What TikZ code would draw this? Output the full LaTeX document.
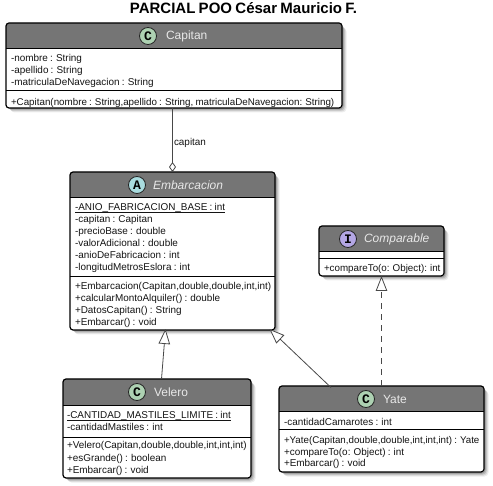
\documentclass[tikz,border=0pt]{standalone}
\usepackage{fontspec}
\setmainfont[WordSpace=0.8]{Liberation Sans}
\setmonofont{Liberation Mono}
\usetikzlibrary{arrows.meta}
\definecolor{headgray}{HTML}{757575}
\definecolor{linegray}{HTML}{484848}
\definecolor{spotC}{HTML}{ADD1B2}
\definecolor{spotA}{HTML}{A9DCDF}
\definecolor{spotI}{HTML}{B4A7E5}
\definecolor{headtext}{HTML}{E8E8E8}
\tikzset{
  x=1pt,y=-1pt,
  classbox/.style={fill=white,inner sep=0pt,outer sep=0pt},
  member/.style={anchor=base west,inner sep=0pt,outer sep=0pt,font=\fontsize{9.93}{12}\selectfont,text=black!92},
  tightmember/.style={member,font=\fontsize{9.8}{12}\selectfont},
  headlabel/.style={anchor=west,inner sep=0pt,outer sep=0pt,font=\fontsize{12}{14}\selectfont,text=headtext},
  spot/.style={circle,draw=black!85,line width=.8pt,minimum size=17pt,inner sep=0pt,font=\ttfamily\bfseries\fontsize{13}{13}\selectfont},
  rel/.style={draw=linegray,line width=.8pt},
  gen/.style={rel,-{Triangle[open,fill=white,length=15pt,width=11.5pt]}},
  agg/.style={rel,-{Diamond[open,fill=white,length=10pt,width=7pt]}},
}
% name, x0, y0, x1, y1, header bottom, separator
\newcommand{\umlbox}[7]{%
  \foreach \s/\o in {4.5/.07,3.5/.10,2.5/.14,1.5/.18}{
    \fill[black,opacity=\o,rounded corners=4pt] (#2+\s,#3+\s) rectangle (#4+\s,#5+\s);
  }
  \node[classbox,minimum width={(#4-#2)*1pt},minimum height={(#5-#3)*1pt}] (#1) at ({(#2+#4)/2},{(#3+#5)/2}) {};
  \fill[headgray] (#2,#6) [rounded corners=3pt] -- (#2,#3) -- (#4,#3) [sharp corners] -- (#4,#6) -- cycle;
  \draw[line width=.9pt] (#2,#6) -- (#4,#6);
  \draw[line width=.9pt] (#2,#7) -- (#4,#7);
  \draw[line width=1.2pt,rounded corners=3pt] (#2,#3) rectangle (#4,#5);
}
\begin{document}
\begin{tikzpicture}
\useasboundingbox (0,0) rectangle (493,486);
\node[inner sep=0pt,font=\bfseries\fontsize{15}{16}\selectfont] (title) at (243.5,8) {PARCIAL POO César Mauricio F.};

\umlbox{capitan}{6}{23}{342}{108}{48}{90}
\umlbox{emb}{70}{172}{275}{330}{197}{276}
\umlbox{comp}{319}{226}{444}{276}{251}{258}
\umlbox{velero}{63}{379}{251}{478}{405}{437}
\umlbox{yate}{279}{386}{484}{472}{411}{429}

\node[spot,fill=spotC] (capspot) at (148,36) {C};
\node[headlabel] (capname) at (166,36) {Capitan};
\node[member] (cap1) at (11,62) {-nombre : String};
\node[member] (cap2) at (11,74) {-apellido : String};
\node[member] (cap3) at (11,86) {-matriculaDeNavegacion : String};
\node[tightmember] (cap4) at (11,106) {+Capitan(nombre : String,apellido : String, matriculaDeNavegacion: String)};

\node[spot,fill=spotA] (embspot) at (137,185) {A};
\node[headlabel,font=\itshape\fontsize{12}{14}\selectfont] (embname) at (153,185) {Embarcacion};
\node[member] (emb1) at (75,211) {\underline{\smash{-ANIO\_FABRICACION\_BASE : int}}};
\node[member] (emb2) at (75,223) {-capitan : Capitan};
\node[member] (emb3) at (75,235) {-precioBase : double};
\node[member] (emb4) at (75,247) {-valorAdicional : double};
\node[member] (emb5) at (75,259) {-anioDeFabricacion : int};
\node[member] (emb6) at (75,271) {-longitudMetrosEslora : int};
\node[member] (emb7) at (75,290) {+Embarcacion(Capitan,double,double,int,int)};
\node[member] (emb8) at (75,302) {+calcularMontoAlquiler() : double};
\node[member] (emb9) at (75,314) {+DatosCapitan() : String};
\node[member] (emb10) at (75,326) {+Embarcar() : void};

\node[spot,fill=spotI] (compspot) at (348,239) {I};
\node[headlabel,font=\itshape\fontsize{12}{14}\selectfont] (compname) at (364,239) {Comparable};
\node[tightmember] (comp1) at (324,272) {+compareTo(o: Object): int};

\node[spot,fill=spotC] (velspot) at (137,392) {C};
\node[headlabel] (velname) at (154,392) {Velero};
\node[member] (vel1) at (67,419) {\underline{\smash{-CANTIDAD\_MASTILES\_LIMITE : int}}};
\node[member] (vel2) at (67,431) {-cantidadMastiles : int};
\node[member] (vel3) at (67,449) {+Velero(Capitan,double,double,int,int,int)};
\node[member] (vel4) at (67,461) {+esGrande() : boolean};
\node[member] (vel5) at (67,473) {+Embarcar() : void};

\node[spot,fill=spotC] (yatespot) at (366,399) {C};
\node[headlabel] (yatename) at (383,399) {Yate};
\node[member] (yate1) at (284,425) {-cantidadCamarotes : int};
\node[member,font=\fontsize{9.75}{12}\selectfont] (yate2) at (284,443) {+Yate(Capitan,double,double,int,int,int) : Yate};
\node[member] (yate3) at (284,455) {+compareTo(o: Object) : int};
\node[member] (yate4) at (284,467) {+Embarcar() : void};

\draw[agg] (capitan.south -| emb.north) -- (emb.north);
\node[member] (caplabel) at (174,145.5) {capitan};
\draw[gen] ([xshift=4.5pt]velero.north) -- ([xshift=-7pt,yshift=1pt]emb.south);
\draw[gen] ([xshift=-50.5pt,yshift=-1.5pt]yate.north) -- ([xshift=-5.5pt,yshift=1pt]emb.south east);
\draw[gen,dash pattern=on 6pt off 5pt] (yate.north) -- (comp.south);
\end{tikzpicture}
\end{document}
